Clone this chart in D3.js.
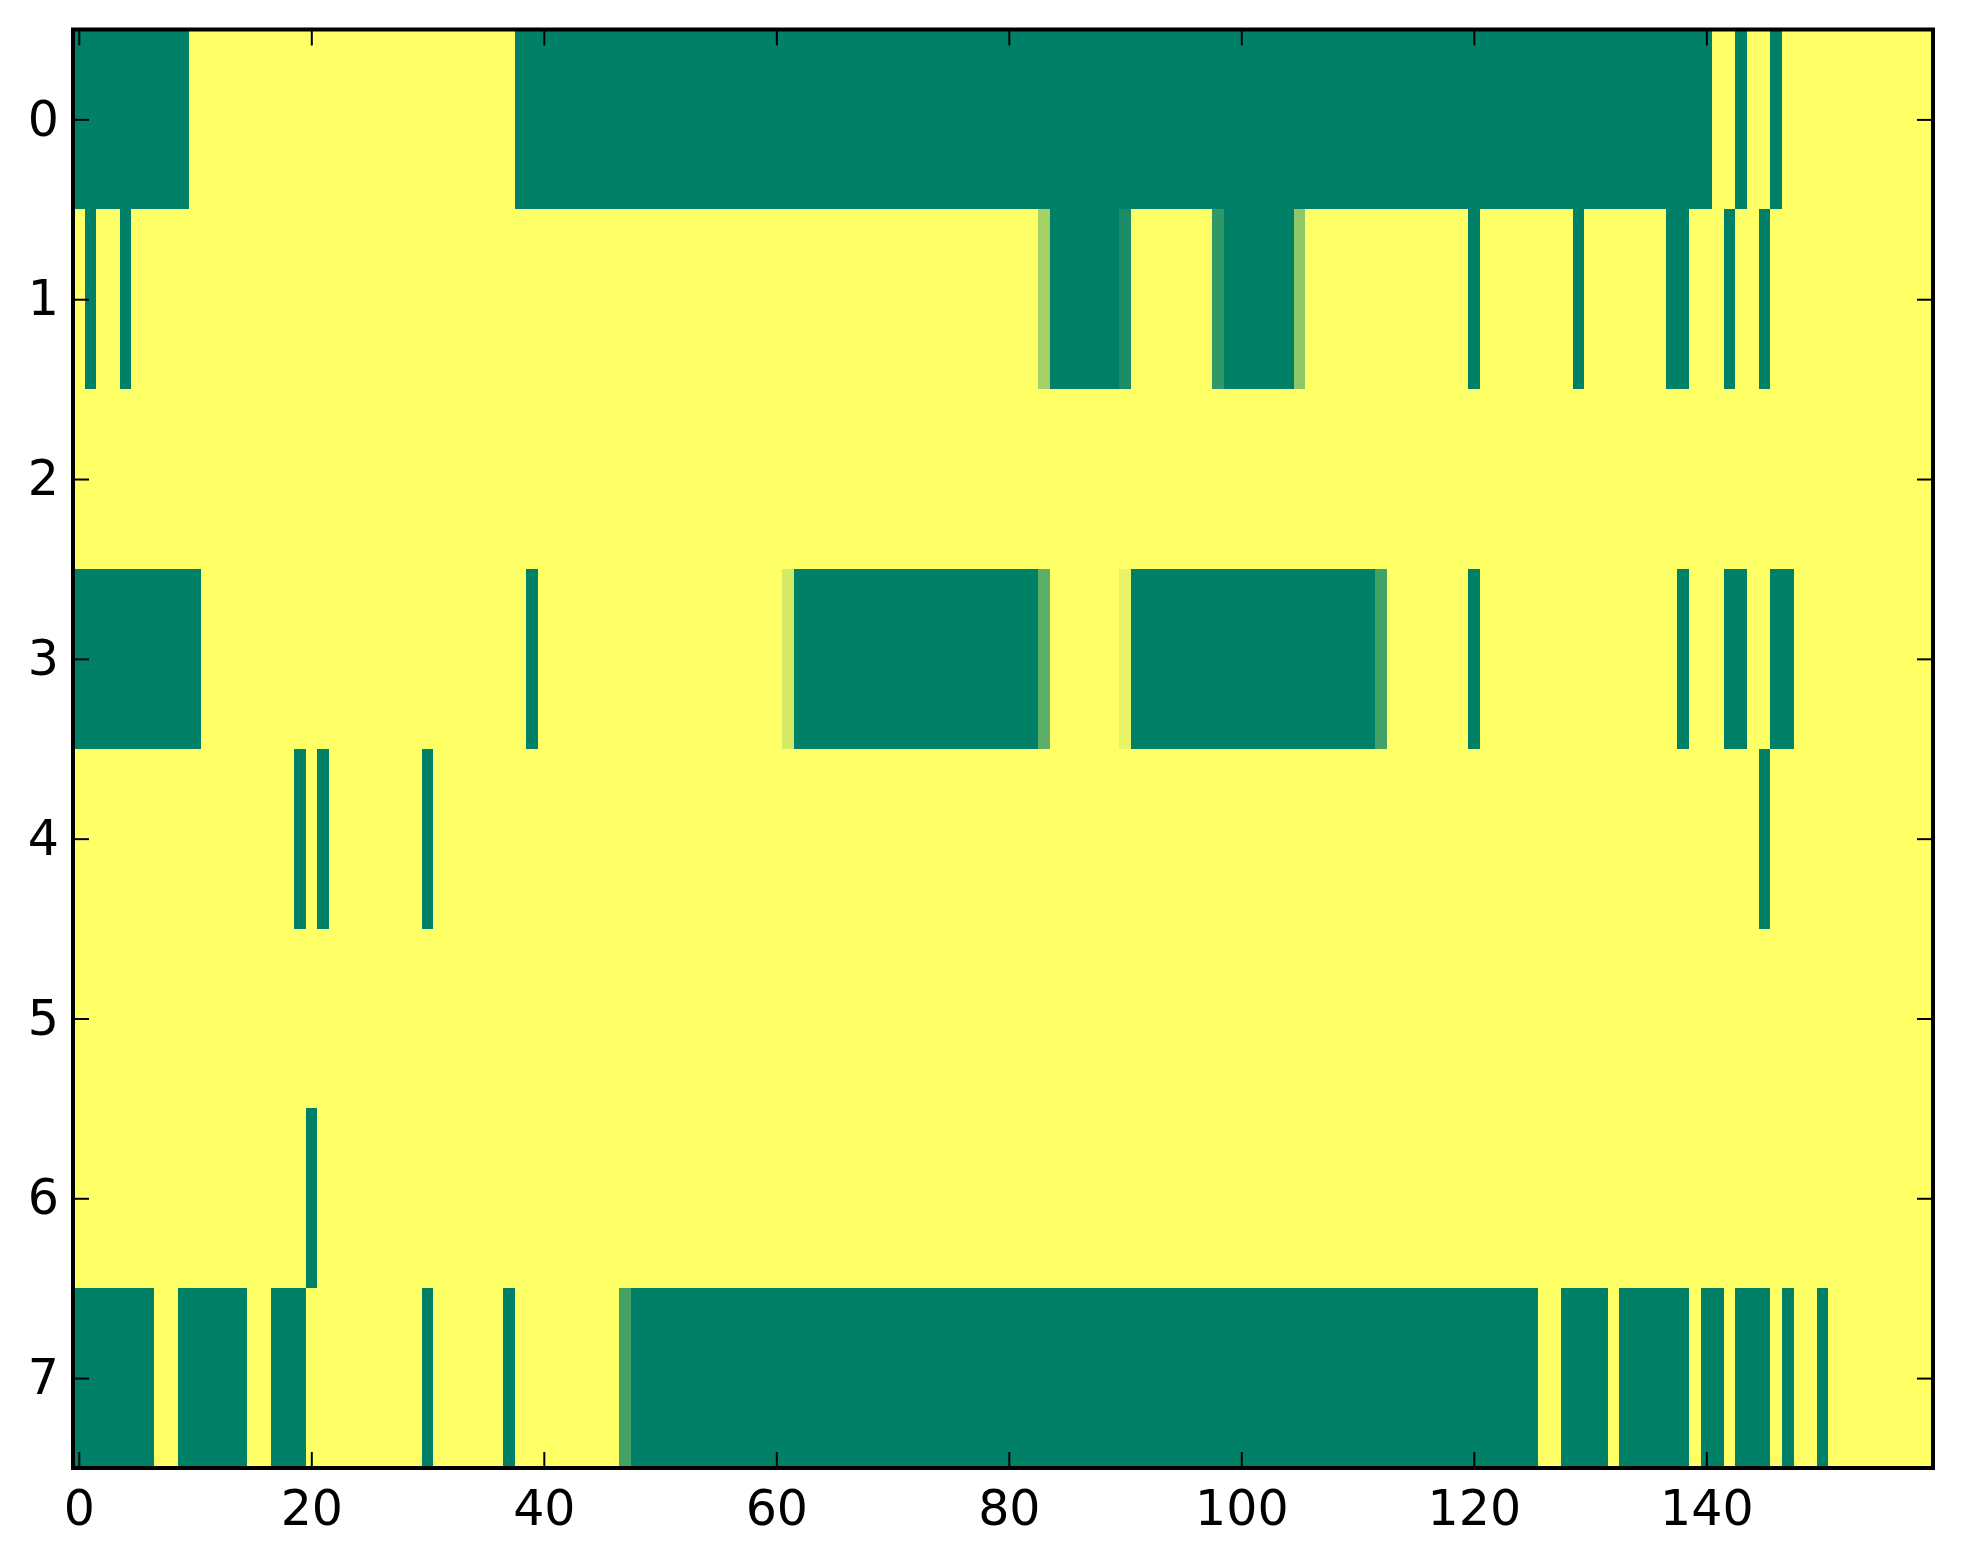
<!DOCTYPE html>
<html>
<head>
<meta charset="utf-8">
<script src="https://cdn.jsdelivr.net/npm/d3@7/dist/d3.min.js"></script>
<style>
  html, body { margin: 0; padding: 0; background: #ffffff; }
  svg { display: block; }
  text { font-family: "DejaVu Sans", sans-serif; }
</style>
</head>
<body>
<svg id="chart" width="1963" height="1564"></svg>
<script>
// ---- data: 8 rows x 160 columns (summer colormap, 0 = green, 1 = yellow) ----
const row0 = [
0,0,0,0,0,0,0,0,0,0,1,1,1,1,1,1,1,1,1,1,
1,1,1,1,1,1,1,1,1,1,1,1,1,1,1,1,1,1,0,0,
0,0,0,0,0,0,0,0,0,0,0,0,0,0,0,0,0,0,0,0,
0,0,0,0,0,0,0,0,0,0,0,0,0,0,0,0,0,0,0,0,
0,0,0,0,0,0,0,0,0,0,0,0,0,0,0,0,0,0,0,0,
0,0,0,0,0,0,0,0,0,0,0,0,0,0,0,0,0,0,0,0,
0,0,0,0,0,0,0,0,0,0,0,0,0,0,0,0,0,0,0,0,
0,1,1,0,1,1,0,1,1,1,1,1,1,1,1,1,1,1,1,1];
const row1 = [
1,0,1,1,0,1,1,1,1,1,1,1,1,1,1,1,1,1,1,1,
1,1,1,1,1,1,1,1,1,1,1,1,1,1,1,1,1,1,1,1,
1,1,1,1,1,1,1,1,1,1,1,1,1,1,1,1,1,1,1,1,
1,1,1,1,1,1,1,1,1,1,1,1,1,1,1,1,1,1,1,1,
1,1,1,0.64,0,0,0,0,0,0,0.1,1,1,1,1,1,1,1,0.19,0,
0,0,0,0,0,0.56,1,1,1,1,1,1,1,1,1,1,1,1,1,1,
0,1,1,1,1,1,1,1,1,0,1,1,1,1,1,1,1,0,0,1,
1,1,0,1,1,0,1,1,1,1,1,1,1,1,1,1,1,1,1,1];
const row2 = [
1,1,1,1,1,1,1,1,1,1,1,1,1,1,1,1,1,1,1,1,
1,1,1,1,1,1,1,1,1,1,1,1,1,1,1,1,1,1,1,1,
1,1,1,1,1,1,1,1,1,1,1,1,1,1,1,1,1,1,1,1,
1,1,1,1,1,1,1,1,1,1,1,1,1,1,1,1,1,1,1,1,
1,1,1,1,1,1,1,1,1,1,1,1,1,1,1,1,1,1,1,1,
1,1,1,1,1,1,1,1,1,1,1,1,1,1,1,1,1,1,1,1,
1,1,1,1,1,1,1,1,1,1,1,1,1,1,1,1,1,1,1,1,
1,1,1,1,1,1,1,1,1,1,1,1,1,1,1,1,1,1,1,1];
const row3 = [
0,0,0,0,0,0,0,0,0,0,0,1,1,1,1,1,1,1,1,1,
1,1,1,1,1,1,1,1,1,1,1,1,1,1,1,1,1,1,1,0,
1,1,1,1,1,1,1,1,1,1,1,1,1,1,1,1,1,1,1,1,
1,0.83,0,0,0,0,0,0,0,0,0,0,0,0,0,0,0,0,0,0,
0,0,0,0.37,1,1,1,1,1,1,0.91,0,0,0,0,0,0,0,0,0,
0,0,0,0,0,0,0,0,0,0,0,0,0.26,1,1,1,1,1,1,1,
0,1,1,1,1,1,1,1,1,1,1,1,1,1,1,1,1,1,0,1,
1,1,0,0,1,1,0,0,1,1,1,1,1,1,1,1,1,1,1,1];
const row4 = [
1,1,1,1,1,1,1,1,1,1,1,1,1,1,1,1,1,1,1,0,
1,0,1,1,1,1,1,1,1,1,0,1,1,1,1,1,1,1,1,1,
1,1,1,1,1,1,1,1,1,1,1,1,1,1,1,1,1,1,1,1,
1,1,1,1,1,1,1,1,1,1,1,1,1,1,1,1,1,1,1,1,
1,1,1,1,1,1,1,1,1,1,1,1,1,1,1,1,1,1,1,1,
1,1,1,1,1,1,1,1,1,1,1,1,1,1,1,1,1,1,1,1,
1,1,1,1,1,1,1,1,1,1,1,1,1,1,1,1,1,1,1,1,
1,1,1,1,1,0,1,1,1,1,1,1,1,1,1,1,1,1,1,1];
const row5 = [
1,1,1,1,1,1,1,1,1,1,1,1,1,1,1,1,1,1,1,1,
1,1,1,1,1,1,1,1,1,1,1,1,1,1,1,1,1,1,1,1,
1,1,1,1,1,1,1,1,1,1,1,1,1,1,1,1,1,1,1,1,
1,1,1,1,1,1,1,1,1,1,1,1,1,1,1,1,1,1,1,1,
1,1,1,1,1,1,1,1,1,1,1,1,1,1,1,1,1,1,1,1,
1,1,1,1,1,1,1,1,1,1,1,1,1,1,1,1,1,1,1,1,
1,1,1,1,1,1,1,1,1,1,1,1,1,1,1,1,1,1,1,1,
1,1,1,1,1,1,1,1,1,1,1,1,1,1,1,1,1,1,1,1];
const row6 = [
1,1,1,1,1,1,1,1,1,1,1,1,1,1,1,1,1,1,1,1,
0,1,1,1,1,1,1,1,1,1,1,1,1,1,1,1,1,1,1,1,
1,1,1,1,1,1,1,1,1,1,1,1,1,1,1,1,1,1,1,1,
1,1,1,1,1,1,1,1,1,1,1,1,1,1,1,1,1,1,1,1,
1,1,1,1,1,1,1,1,1,1,1,1,1,1,1,1,1,1,1,1,
1,1,1,1,1,1,1,1,1,1,1,1,1,1,1,1,1,1,1,1,
1,1,1,1,1,1,1,1,1,1,1,1,1,1,1,1,1,1,1,1,
1,1,1,1,1,1,1,1,1,1,1,1,1,1,1,1,1,1,1,1];
const row7 = [
0,0,0,0,0,0,0,1,1,0,0,0,0,0,0,1,1,0,0,0,
1,1,1,1,1,1,1,1,1,1,0,1,1,1,1,1,1,0,1,1,
1,1,1,1,1,1,1,0.27,0,0,0,0,0,0,0,0,0,0,0,0,
0,0,0,0,0,0,0,0,0,0,0,0,0,0,0,0,0,0,0,0,
0,0,0,0,0,0,0,0,0,0,0,0,0,0,0,0,0,0,0,0,
0,0,0,0,0,0,0,0,0,0,0,0,0,0,0,0,0,0,0,0,
0,0,0,0,0,0,1,1,0,0,0,0,1,0,0,0,0,0,0,1,
0,0,1,0,0,0,1,0,1,1,0,1,1,1,1,1,1,1,1,1];

const rows = [row0, row1, row2, row3, row4, row5, row6, row7];
const xTickValues = [0, 20, 40, 60, 80, 100, 120, 140];
const yTickValues = [0, 1, 2, 3, 4, 5, 6, 7];

// ---- layout ----
const L = 73, R = 1933, T = 29.5, B = 1468;
const nCols = row0.length, nRows = rows.length;

const svg = d3.select("#chart");
const x = d3.scaleLinear().domain([-0.5, nCols - 0.5]).range([L, R]);
const y = d3.scaleLinear().domain([-0.5, nRows - 0.5]).range([T, B]);
const color = d3.scaleLinear().domain([0, 1]).range(["#008066", "#ffff66"]);

const cells = [];
rows.forEach((r, ri) => r.forEach((v, ci) => cells.push({ r: ri, c: ci, v })));

svg.append("g")
  .selectAll("rect")
  .data(cells)
  .join("rect")
  .attr("x", d => x(d.c - 0.5))
  .attr("y", d => y(d.r - 0.5))
  .attr("width", d => x(d.c + 0.5) - x(d.c - 0.5) + 0.6)
  .attr("height", d => y(d.r + 0.5) - y(d.r - 0.5) + 0.6)
  .attr("fill", d => color(d.v))
  .attr("shape-rendering", "crispEdges");

// ---- ticks (inward, all four sides) ----
const tickLen = 16, tickW = 2;
const fontSize = 49;

const xb = d3.axisBottom(x).tickValues(xTickValues).tickSize(-tickLen).tickPadding(22).tickFormat(d3.format("d"));
const xt = d3.axisTop(x).tickValues(xTickValues).tickSize(-tickLen).tickFormat("");
const yl = d3.axisLeft(y).tickValues(yTickValues).tickSize(-tickLen).tickPadding(14).tickFormat(d3.format("d"));
const yr = d3.axisRight(y).tickValues(yTickValues).tickSize(-tickLen).tickFormat("");

function styleAxis(g) {
  g.select(".domain").remove();
  g.selectAll(".tick line").attr("stroke", "#000").attr("stroke-width", tickW);
  g.selectAll(".tick text")
    .attr("fill", "#000")
    .style("font-family", "'DejaVu Sans', sans-serif")
    .style("font-size", fontSize + "px");
}

svg.append("g").attr("transform", `translate(0,${B})`).call(xb).call(styleAxis);
svg.append("g").attr("transform", `translate(0,${T})`).call(xt).call(styleAxis);
svg.append("g").attr("transform", `translate(${L},0)`).call(yl).call(styleAxis);
svg.append("g").attr("transform", `translate(${R},0)`).call(yr).call(styleAxis);

// ---- frame ----
svg.append("rect")
  .attr("x", L).attr("y", T)
  .attr("width", R - L).attr("height", B - T)
  .attr("fill", "none")
  .attr("stroke", "#000")
  .attr("stroke-width", 4);
</script>
</body>
</html>
